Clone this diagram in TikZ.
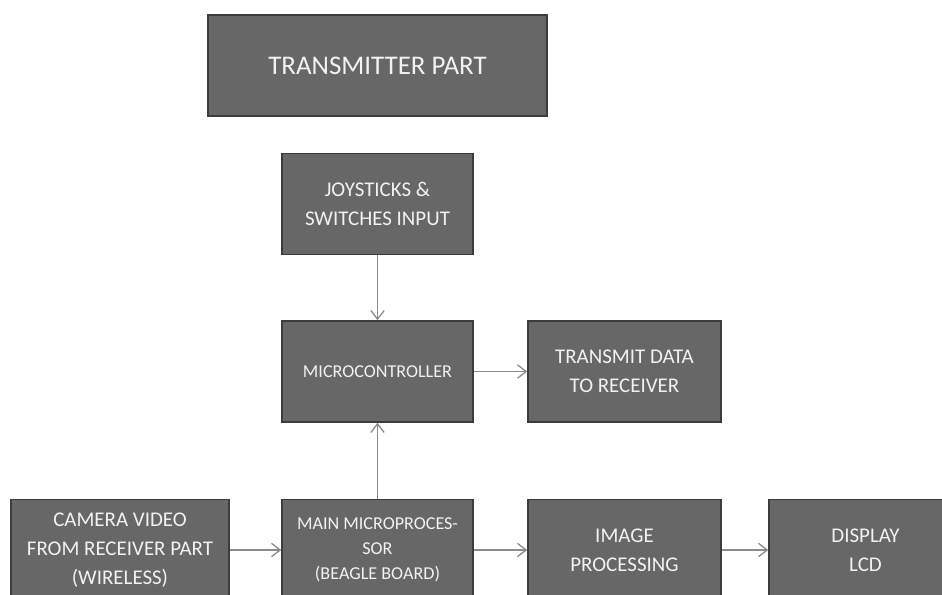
\documentclass[tikz,border=0pt]{standalone}
\usepackage{fontspec}
\setmainfont{Carlito}
\usetikzlibrary{arrows.meta}
\definecolor{boxfill}{HTML}{676767}
\definecolor{boxline}{HTML}{3C3C3C}
\definecolor{boxtext}{HTML}{F2F2F2}
\definecolor{flow}{HTML}{8C8C8C}
\tikzset{
  blk/.style={draw=boxline, line width=1.1pt, fill=boxfill, text=boxtext,
    inner sep=0pt, align=center, minimum height=75.75pt, minimum width=143.25pt,
    font=\fontsize{15.7}{21.75}\selectfont},
  small/.style={font=\fontsize{13.6}{18.75}\selectfont},
  flowarrow/.style={draw=flow, line width=1pt,
    -{Straight Barb[length=6.5pt,width=10pt,line width=1pt]}}
}
\begin{document}
\begin{tikzpicture}[x=0.75pt,y=-0.75pt]
  \useasboundingbox (0,0) rectangle (942,595);
  \clip (0,0) rectangle (942,595);

  % header
  \node[blk, minimum width=254.25pt, font=\fontsize{20.2}{24}\selectfont]
    (title) at (377.5,65.5) {TRANSMITTER PART};

  % transmitter chain
  \node[blk] (joy)   at (377.5,204)   {JOYSTICKS \&\\SWITCHES INPUT};
  \node[blk, small] (mcu) at (377.5,371.5) {MICROCONTROLLER};
  \node[blk, minimum width=144.75pt] (txd) at (624.5,371.5) {TRANSMIT DATA\\TO RECEIVER};

  % video chain
  \node[blk, minimum width=163.5pt] (cam) at (120,550)
    {CAMERA VIDEO\\FROM RECEIVER PART\\(WIRELESS)};
  \node[blk, small] (cpu) at (377.5,550) {MAIN MICROPROCES-\\SOR\\(BEAGLE BOARD)};
  \node[blk, minimum width=144.75pt] (img) at (624.5,550) {IMAGE\\PROCESSING};
  \node[blk, minimum width=144.75pt] (lcd) at (865.5,550) {DISPLAY\\LCD};

  % connections
  \draw[flowarrow] (joy) -- (mcu);
  \draw[flowarrow] (cpu) -- (mcu);
  \draw[flowarrow] (mcu) -- (txd);
  \draw[flowarrow] (cam) -- (cpu);
  \draw[flowarrow] (cpu) -- (img);
  \draw[flowarrow] (img) -- (lcd);
\end{tikzpicture}
\end{document}
